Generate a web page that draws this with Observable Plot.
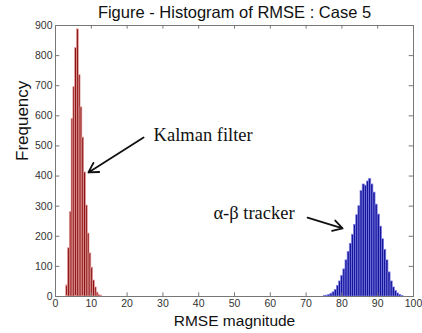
<!DOCTYPE html>
<html><head><meta charset="utf-8">
<script src="https://cdn.jsdelivr.net/npm/d3@7"></script>
<script src="https://cdn.jsdelivr.net/npm/@observablehq/plot@0.6"></script>
<style>body{margin:0;background:#fff;} svg{overflow:visible}</style>
</head><body><div id="chart"></div>
<script>
// Kalman filter RMSE histogram (bin start, count)
const kalmanBinWidth = 0.5;
const kalmanBins = [3.0,3.5,4.0,4.5,5.0,5.5,6.0,6.5,7.0,7.5,8.0,8.5,9.0,9.5,10.0,10.5,11.0,11.5,12.0,12.5];
const kalmanCounts = [37,160,280,590,695,825,887,735,628,528,412,302,209,143,96,53,30,13,5,3];
// alpha-beta tracker RMSE histogram
const abBinWidth = 0.6;
const abBins = [75.0,75.6,76.2,76.8,77.4,78.0,78.6,79.2,79.8,80.4,81.0,81.6,82.2,82.8,83.4,84.0,84.6,85.2,85.8,86.4,87.0,87.6,88.2,88.8,89.4,90.0,90.6,91.2,91.8,92.4,93.0,93.6,94.2,94.8,95.4,96.0,96.6];
const abCounts = [2,3,5,9,14,22,35,50,68,90,120,148,175,205,238,270,300,350,372,368,382,390,372,345,305,272,232,190,155,120,80,50,30,18,10,5,2];
const xTicks = [0,10,20,30,40,50,60,70,80,90,100];
const yTicks = [0,100,200,300,400,500,600,700,800,900];
const title = "Figure - Histogram of RMSE : Case 5";
const xLabel = "RMSE magnitude";
const yLabel = "Frequency";
const labels = [
  {text: "Kalman filter", x: 27.4, y: 535, ax1: 24.6, ay1: 528, ax2: 9.2, ay2: 412},
  {text: "α-β tracker", x: 44.1, y: 276, ax1: 70.4, ay1: 262, ax2: 80.2, ay2: 226}
];

const kalman = kalmanBins.map((b,i)=>({x1:b, x2:b+kalmanBinWidth, y:kalmanCounts[i]}));
const ab = abBins.map((b,i)=>({x1:b, x2:b+abBinWidth, y:abCounts[i]}));

const chart = Plot.plot({
  width: 422, height: 333,
  marginLeft: 55, marginRight: 9, marginTop: 25, marginBottom: 37,
  style: {fontFamily: "Arial, 'Liberation Sans', sans-serif", fontSize: "10.5px", color: "#333", background: "#fff"},
  x: {domain: [0,100]},
  y: {domain: [0,900]},
  marks: [
    Plot.rectY(kalman, {x1:"x1", x2:"x2", y:"y", fill:"#8a1212", stroke:"#e49a9a", strokeWidth:0.7}),
    Plot.rectY(ab, {x1:"x1", x2:"x2", y:"y", fill:"#15159a", stroke:"#7f7fe6", strokeWidth:0.7}),
    Plot.ruleY([0], {x1: 0, x2: 100, stroke:"#d86a6a", strokeWidth:1}),
    Plot.frame({stroke:"#777"}),
    Plot.ruleX(xTicks, {y1: 0, y2: 12, stroke:"#777"}),
    Plot.ruleX(xTicks, {y1: 888, y2: 900, stroke:"#777"}),
    Plot.ruleY(yTicks, {x1: 0, x2: 1.2, stroke:"#777"}),
    Plot.ruleY(yTicks, {x1: 98.8, x2: 100, stroke:"#777"}),
    Plot.axisX(xTicks, {tickSize: 0, tickPadding: 3, label: null, fontSize: 10.5}),
    Plot.axisY(yTicks, {tickSize: 0, tickPadding: 3, label: null, fontSize: 10.5}),
    Plot.text([title], {frameAnchor: "top", lineAnchor: "middle", dy: -13, fontSize: 16.5, fill: "#111"}),
    Plot.text([xLabel], {frameAnchor: "bottom", lineAnchor: "middle", dy: 25, fontSize: 15.5, fill: "#111"}),
    Plot.text([yLabel], {frameAnchor: "left", dx: -33, rotate: -90, fontSize: 17, fill: "#111"}),
    Plot.arrow(labels, {x1:"ax1", y1:"ay1", x2:"ax2", y2:"ay2", stroke:"#111", strokeWidth:1.8, headLength: 9}),
    Plot.text(labels, {x:"x", y:"y", text:"text", textAnchor:"start", fontFamily:"'Liberation Serif', 'Times New Roman', serif", fontSize: 18.5, fill:"#111"})
  ]
});
document.getElementById("chart").append(chart);
</script></body></html>
